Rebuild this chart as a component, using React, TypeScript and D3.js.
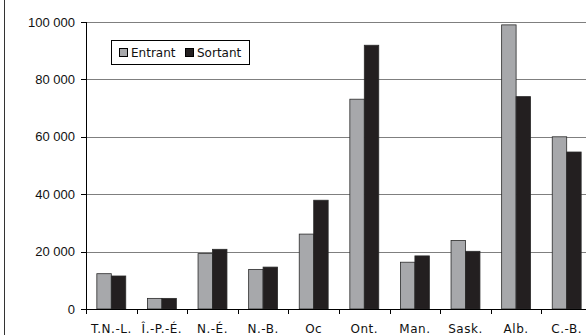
import React from "react";
import * as d3 from "d3";

const categories = ["T.N.-L.", "Î.-P.-É.", "N.-É.", "N.-B.", "Oc", "Ont.", "Man.", "Sask.", "Alb.", "C.-B."];
const entrant = [12300, 3700, 19300, 13800, 26100, 73100, 16300, 23900, 99000, 60000];
const sortant = [11500, 3700, 20800, 14600, 37900, 91900, 18500, 20100, 74000, 54700];
const seriesNames = ["Entrant", "Sortant"];
const yTicks = [0, 20000, 40000, 60000, 80000, 100000];

const W = 586;
const H = 335;
const left = 86;
const plotRight = 592;
const top = 22;
const bottom = 309;
const colors = ["#a7a8ab", "#231f20"];

export default function App() {
  const x = d3.scaleBand<string>().domain(categories).range([left, plotRight]).paddingInner(0).paddingOuter(0);
  const xs = d3.scaleBand<string>().domain(seriesNames).range([0, x.bandwidth()]).paddingInner(0).paddingOuter(0.75);
  const y = d3.scaleLinear().domain([0, 100000]).range([bottom, top]);
  const fmt = (v: number) => d3.format(",")(v).replace(/,/g, " ");
  const data = [entrant, sortant];
  const boundaries = categories.map((c) => x(c)!).concat([plotRight]);

  return (
    <svg width={W} height={H} style={{ position: "absolute", left: 0, top: 0, background: "#fff" }}>
      <line x1={4.5} x2={4.5} y1={0} y2={H} stroke="#333" strokeWidth={1} />
      {yTicks.filter((t) => t > 0).map((t) => (
        <line key={"g" + t} x1={left} x2={W} y1={Math.round(y(t)) + 0.5} y2={Math.round(y(t)) + 0.5} stroke="#7f7f7f" strokeWidth={1} />
      ))}
      {data.map((vals, si) =>
        categories.map((c, i) => {
          const bx = x(c)! + xs(seriesNames[si])!;
          const by = y(vals[i]);
          return (
            <rect key={si + "-" + c} x={bx} y={by} width={xs.bandwidth()} height={bottom - by} fill={colors[si]} stroke="#2a2a2a" strokeWidth={0.8} />
          );
        })
      )}
      <line x1={left + 0.5} x2={left + 0.5} y1={top} y2={bottom} stroke="#000" strokeWidth={1} />
      <line x1={left} x2={W} y1={bottom + 0.5} y2={bottom + 0.5} stroke="#000" strokeWidth={1} />
      {yTicks.map((t) => (
        <g key={"t" + t}>
          <line x1={left - 5} x2={left} y1={Math.round(y(t)) + 0.5} y2={Math.round(y(t)) + 0.5} stroke="#000" />
          <text x={75} y={y(t)} dy="0.36em" textAnchor="end" fontFamily="Liberation Sans, Arial, sans-serif" fontSize={13} fill="#111">
            {fmt(t)}
          </text>
        </g>
      ))}
      {boundaries.map((b, i) => (
        <line key={"xt" + i} x1={Math.round(b) + 0.5} x2={Math.round(b) + 0.5} y1={bottom} y2={bottom + 5} stroke="#000" />
      ))}
      {categories.map((c) => (
        <text key={"xl" + c} x={x(c)! + x.bandwidth() / 2} y={333} textAnchor="middle" fontFamily="DejaVu Sans, Verdana, sans-serif" fontSize={12} letterSpacing={0.5} fill="#111">
          {c}
        </text>
      ))}
      <g>
        <rect x={111.5} y={40.5} width={138} height={24} fill="#fff" stroke="#000" strokeWidth={1} />
        {seriesNames.map((s, i) => {
          const sx = i === 0 ? 119 : 185;
          return (
            <g key={s}>
              <rect x={sx + 0.5} y={48.5} width={8} height={8} fill={colors[i]} stroke="#000" strokeWidth={1} />
              <text x={sx + 12} y={57} fontFamily="DejaVu Sans, Verdana, sans-serif" fontSize={12} fill="#111">
                {s}
              </text>
            </g>
          );
        })}
      </g>
    </svg>
  );
}
